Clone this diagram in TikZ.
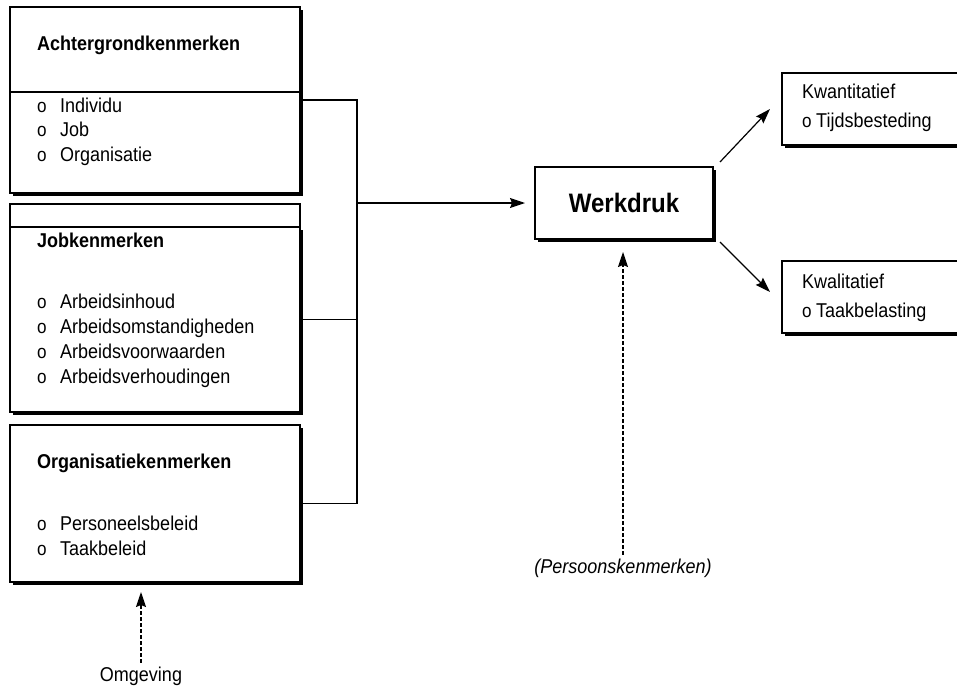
\documentclass[tikz,border=0pt]{standalone}
\usepackage{fontspec}
\setmainfont{Liberation Sans}[FakeStretch=0.9]
\usetikzlibrary{arrows.meta,positioning,shadows}

\newcommand{\bul}[1][23pt]{\makebox[#1][l]{\fontsize{19}{19}\selectfont o}}

\begin{document}
\begin{tikzpicture}[
  x=1pt,y=-1pt,
  font=\fontsize{20}{24.5}\selectfont,
  kbox/.style={draw,line width=1.3pt,fill=white,inner sep=0pt,outer sep=0pt,
    drop shadow={shadow xshift=3pt,shadow yshift=-3pt,fill=black,opacity=1}},
  stripbox/.style={draw,line width=1.1pt,fill=white,inner sep=0pt,outer sep=0pt},
  headtext/.style={anchor=base west,inner sep=0pt,font=\fontsize{20}{24.5}\selectfont\bfseries},
  itemtext/.style={anchor=base west,inner sep=0pt,align=left},
  link/.style={line width=1.2pt},
  arr/.style={line width=1.2pt,-{Stealth[length=15pt,width=10pt,inset=2pt]}},
  dasharr/.style={arr,dash pattern=on 4pt off 2pt}
]
\useasboundingbox (0,0) rectangle (957,688);
\node[kbox,minimum width=290pt,minimum height=186pt,anchor=north west] (achter) at (10,7) {};
\node[stripbox,minimum width=290pt,minimum height=23pt,below=11pt of achter] (strip) {};
\node[kbox,minimum width=290pt,minimum height=185pt,below=0pt of strip] (job) {};
\node[kbox,minimum width=290pt,minimum height=157pt,below=13pt of job] (org) {};
\draw[link] ([yshift=-85pt]achter.north west) -- ([yshift=-85pt]achter.north east);

\node[headtext] (achterhead) at ([shift={(27pt,-43pt)}]achter.north west) {Achtergrondkenmerken};
\node[itemtext] (achteritems) at ([shift={(27pt,-154pt)}]achter.north west) {\bul Individu\\\bul Job\\\bul Organisatie};
\node[headtext] (jobhead) at ([shift={(27pt,-20pt)}]job.north west) {Jobkenmerken};
\node[itemtext,font=\fontsize{20}{25}\selectfont] (jobitems) at ([shift={(27pt,-156pt)}]job.north west) {\bul Arbeidsinhoud\\\bul Arbeidsomstandigheden\\\bul Arbeidsvoorwaarden\\\bul Arbeidsverhoudingen};
\node[headtext] (orghead) at ([shift={(27pt,-43pt)}]org.north west) {Organisatiekenmerken};
\node[itemtext,font=\fontsize{20}{25}\selectfont] (orgitems) at ([shift={(27pt,-130pt)}]org.north west) {\bul Personeelsbeleid\\\bul Taakbeleid};

\node[kbox,minimum width=178pt,minimum height=72pt,font=\fontsize{26.7}{26.7}\selectfont\bfseries] (werkdruk) at (624,203) {Werkdruk};
\node[kbox,minimum width=200pt,minimum height=72pt,anchor=north west] (kwant) at (782,73) {};
\node[kbox,minimum width=200pt,minimum height=72pt,below=116pt of kwant] (kwal) {};
\node[itemtext,font=\fontsize{20}{29}\selectfont] (kwanttext) at ([shift={(20pt,-54pt)}]kwant.north west) {Kwantitatief\\\bul[14pt]Tijdsbesteding};
\node[itemtext,font=\fontsize{20}{29}\selectfont] (kwaltext) at ([shift={(20pt,-56pt)}]kwal.north west) {Kwalitatief\\\bul[14pt]Taakbelasting};

\node[anchor=base,font=\fontsize{20}{20}\selectfont\itshape] (persoon) at (623,573) {(Persoonskenmerken)};
\node[anchor=base] (omgeving) at (141,681) {Omgeving};

\coordinate (join) at (357,203);
\draw[link] (achter.east) -- (achter.east -| join) -- (org.east -| join) -- (org.east);
\draw[link] (job.east) -- (job.east -| join);
\draw[arr,shorten >=10pt] (join) -- (werkdruk.west);
\draw[arr] ([shift={(7pt,5pt)}]werkdruk.north east) -- ([xshift=-12pt]kwant.west);
\draw[arr] ([shift={(7pt,-3pt)}]werkdruk.south east) -- ([shift={(-12pt,5pt)}]kwal.west);
\draw[dasharr,shorten >=13pt] (persoon.north) -- (persoon.north |- werkdruk.south);
\draw[dasharr,shorten >=10pt] (omgeving.north) -- (omgeving.north |- org.south);
\end{tikzpicture}
\end{document}
